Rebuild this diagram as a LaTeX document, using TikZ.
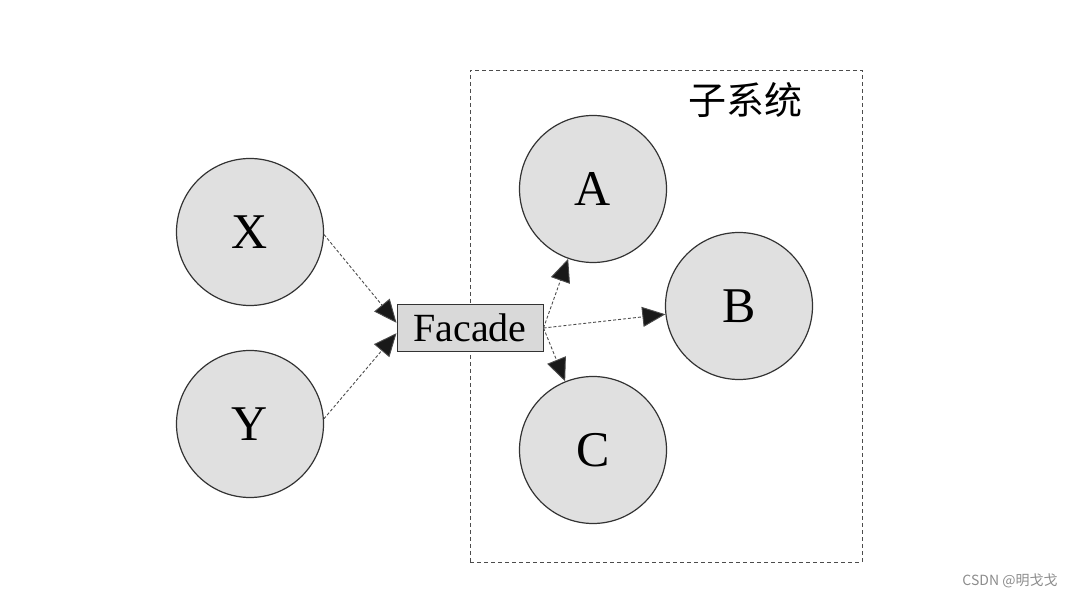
\documentclass[tikz,border=0pt]{standalone}
\usepackage{fontspec}
\setmainfont{Liberation Serif}
\newfontfamily\cjk{Noto Sans CJK SC}
\usetikzlibrary{arrows.meta}

\begin{document}
\begin{tikzpicture}[x=0.5pt, y=-0.5pt]
    % Define styles
    \tikzset{
        client/.style={draw=black!80, fill=black!12, circle, line width=0.6pt, minimum size=73.5pt, inner sep=0pt, font=\fontsize{25}{25}\selectfont},
        facadebox/.style={draw=black!80, fill=black!15, line width=0.5pt, minimum width=73pt, minimum height=23.5pt, inner sep=0pt, font=\fontsize{20}{20}\selectfont},
        arrow/.style={-{Triangle[length=11.5pt, width=10pt, fill=black!90]}, draw=black!70, line width=0.45pt, dash pattern=on 1.5pt off 1pt},
        frame/.style={draw=black!70, line width=0.4pt, dash pattern=on 2pt off 1.5pt}
    }
    \useasboundingbox (0,0) rectangle (1075,597);

    % Subsystem frame
    \node[frame, minimum width=196pt, minimum height=246pt, inner sep=0pt] (sub) at (666,316) {};
    \node[font=\cjk\fontsize{19}{19}\selectfont] (title) at (745,100) {子系统};

    % Clients
    \node[client] (x) at (250,232) {X};
    \node[client] (y) at (250,424) {Y};

    % Facade
    \node[facadebox] (facade) at (470,328) {Facade};

    % Subsystem classes
    \node[client] (a) at (593,189) {A};
    \node[client] (b) at (739,306) {B};
    \node[client] (c) at (593,450) {C};

    % Arrows to facade
    \draw[arrow] (x.-2) -- (facade.176);
    \draw[arrow] (y.4) -- (facade.184);

    % Arrows from facade
    \draw[arrow] (facade.east) -- (a);
    \draw[arrow] (facade.east) -- (b);
    \draw[arrow] (facade.east) -- (c);

    % Watermark
    \node[text=black!45, font=\cjk\fontsize{7}{7}\selectfont] (mark) at (1010,581) {CSDN @明戈戈};
\end{tikzpicture}
\end{document}
